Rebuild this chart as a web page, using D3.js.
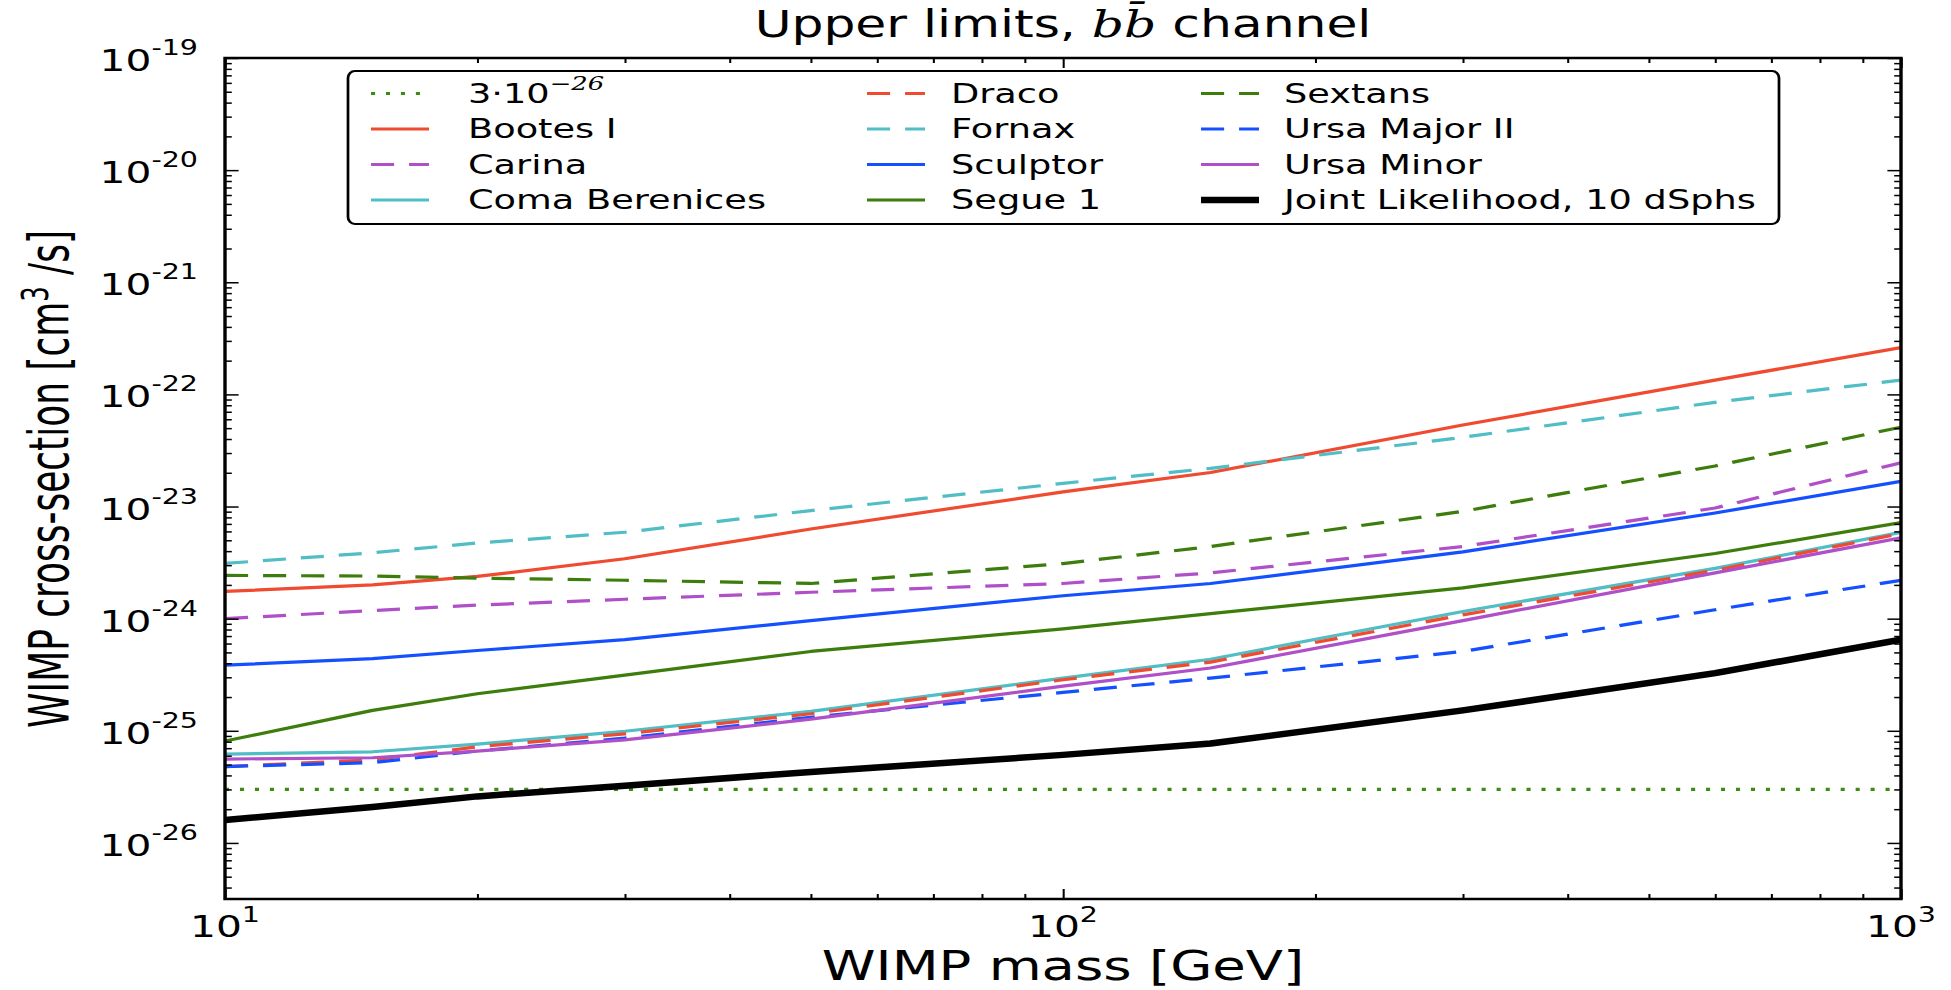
<!DOCTYPE html>
<html>
<head>
<meta charset="utf-8">
<script src="https://cdn.jsdelivr.net/npm/d3@7"></script>
<style>
    body { margin: 0; background: #fff; }
    svg { display: block; }
    text { font-family: "DejaVu Sans", sans-serif; fill: #000; }
</style>
</head>
<body>
<script>
// WIMP masses [GeV] where the limits are sampled
const masses = [10, 15, 20, 30, 50, 100, 150, 300, 600, 1000];

// upper limits on <sigma v> [cm^3/s]
const bootesI      = [1.75e-24, 2.0e-24, 2.38e-24, 3.42e-24, 6.3e-24, 1.35e-23, 2.01e-23, 5.33e-23, 1.34e-22, 2.62e-22];
const carina       = [1.0e-24, 1.18e-24, 1.32e-24, 1.49e-24, 1.72e-24, 2.06e-24, 2.56e-24, 4.4e-24, 9.7e-24, 2.46e-23];
const comaBer      = [6.2e-26, 6.5e-26, 7.6e-26, 9.9e-26, 1.49e-25, 2.95e-25, 4.35e-25, 1.16e-24, 2.81e-24, 5.88e-24];
const draco        = [4.8e-26, 5.5e-26, 7.2e-26, 9.4e-26, 1.42e-25, 2.85e-25, 4.1e-25, 1.08e-24, 2.7e-24, 5.75e-24];
const fornax       = [3.11e-24, 3.87e-24, 4.73e-24, 5.9e-24, 9.2e-24, 1.61e-23, 2.19e-23, 4.14e-23, 8.5e-23, 1.34e-22];
const sculptor     = [3.85e-25, 4.4e-25, 5.2e-25, 6.5e-25, 9.6e-25, 1.6e-24, 2.06e-24, 3.94e-24, 8.75e-24, 1.68e-23];
const segue1       = [8.1e-26, 1.52e-25, 2.14e-25, 3.14e-25, 5.1e-25, 8.1e-25, 1.11e-24, 1.88e-24, 3.81e-24, 7.2e-24];
const sextans      = [2.43e-24, 2.4e-24, 2.3e-24, 2.2e-24, 2.06e-24, 3.1e-24, 4.4e-24, 9.06e-24, 2.3e-23, 5.1e-23];
const ursaMajorII  = [4.8e-26, 5.2e-26, 6.6e-26, 8.6e-26, 1.32e-25, 2.2e-25, 2.95e-25, 5.1e-25, 1.2e-24, 2.2e-24];
const ursaMinor    = [5.6e-26, 5.75e-26, 6.6e-26, 8.3e-26, 1.27e-25, 2.5e-25, 3.63e-25, 9.6e-25, 2.56e-24, 5.27e-24];
const jointLike    = [1.6e-26, 2.09e-26, 2.6e-26, 3.24e-26, 4.3e-26, 6.1e-26, 7.7e-26, 1.52e-25, 3.27e-25, 6.5e-25];

// thermal relic cross-section
const thermalMasses = [10, 1000];
const thermalValues = [3e-26, 3e-26];

// tick labels
const xTickExponents = [1, 2, 3];
const yTickExponents = [-26, -25, -24, -23, -22, -21, -20, -19];

const red = '#f04a30';
const purple = '#b050c8';
const cyan = '#50bec4';
const blue = '#1450ff';
const green = '#3c7d0c';

const dashed = '17 11';

// plotting order == legend order (column major)
const series = [
    { name: 'thermal', masses: thermalMasses, values: thermalValues, color: '#3c8c14', dash: '3 8', width: 3.2 },
    { name: 'Bootes I', masses, values: bootesI, color: red, dash: null, width: 3.2 },
    { name: 'Carina', masses, values: carina, color: purple, dash: dashed, width: 3.2 },
    { name: 'Coma Berenices', masses, values: comaBer, color: cyan, dash: null, width: 3.2 },
    { name: 'Draco', masses, values: draco, color: red, dash: dashed, width: 3.2 },
    { name: 'Fornax', masses, values: fornax, color: cyan, dash: dashed, width: 3.2 },
    { name: 'Sculptor', masses, values: sculptor, color: blue, dash: null, width: 3.2 },
    { name: 'Segue 1', masses, values: segue1, color: green, dash: null, width: 3.2 },
    { name: 'Sextans', masses, values: sextans, color: green, dash: dashed, width: 3.2 },
    { name: 'Ursa Major II', masses, values: ursaMajorII, color: blue, dash: dashed, width: 3.2 },
    { name: 'Ursa Minor', masses, values: ursaMinor, color: purple, dash: null, width: 3.2 },
    { name: 'Joint Likelihood, 10 dSphs', masses, values: jointLike, color: '#000', dash: null, width: 6.5 }
];

drawChart();

function drawChart()
{
    const width = 1951;
    const height = 990;

    // the reference is stretched horizontally, draw in an unstretched frame
    const stretch = 1.36;
    const vw = width / stretch;

    const left = 225 / stretch;
    const right = 1901 / stretch;
    const top = 58;
    const bottom = 899;

    const svg = d3.select('body').append('svg')
        .attr('width', width)
        .attr('height', height)
        .attr('viewBox', `0 0 ${vw} ${height}`)
        .attr('preserveAspectRatio', 'none');

    const x = d3.scaleLog().domain([10, 1000]).range([left, right]);
    const y = d3.scaleLog().domain([Math.pow(10, -26.5), 1e-19]).range([bottom, top]);

    // tick values
    const xMajor = xTickExponents.map(e => Math.pow(10, e));
    const xMinor = [];
    for (let e = 1; e < 3; e++)
        for (let k = 2; k <= 9; k++) xMinor.push(k * Math.pow(10, e));

    const yMajor = yTickExponents.map(e => Math.pow(10, e));
    const yMinor = [];
    for (let e = -27; e < -19; e++)
        for (let k = 2; k <= 9; k++)
        {
            const v = k * Math.pow(10, e);
            if (v > y.domain()[0] && v < 1e-19) yMinor.push(v);
        }

    // clip
    svg.append('clipPath').attr('id', 'plot-clip')
        .append('rect')
        .attr('x', left).attr('y', top)
        .attr('width', right - left).attr('height', bottom - top);

    // data lines
    const line = d3.line()
        .x(d => x(d[0]))
        .y(d => y(d[1]));

    svg.append('g')
        .attr('clip-path', 'url(#plot-clip)')
        .selectAll('path')
        .data(series)
        .enter()
        .append('path')
        .attr('d', s => line(s.masses.map((m, i) => [m, s.values[i]])))
        .attr('fill', 'none')
        .attr('stroke', s => s.color)
        .attr('stroke-width', s => s.width)
        .attr('stroke-dasharray', s => s.dash)
        .attr('stroke-linejoin', 'round');

    // ticks on all four sides, pointing inward
    const addAxis = (axis, tx, ty) =>
    {
        svg.append('g')
            .attr('transform', `translate(${tx}, ${ty})`)
            .call(axis)
            .call(g => g.select('.domain').remove())
            .call(g => g.selectAll('line').attr('stroke', '#000').attr('stroke-width', 1.5));
    };

    addAxis(d3.axisBottom(x).tickValues(xMinor).tickSize(-5).tickFormat(''), 0, bottom);
    addAxis(d3.axisBottom(x).tickValues(xMajor).tickSize(-10).tickFormat(''), 0, bottom);
    addAxis(d3.axisTop(x).tickValues(xMinor).tickSize(-5).tickFormat(''), 0, top);
    addAxis(d3.axisTop(x).tickValues(xMajor).tickSize(-10).tickFormat(''), 0, top);
    addAxis(d3.axisLeft(y).tickValues(yMinor).tickSize(-5).tickFormat(''), left, 0);
    addAxis(d3.axisLeft(y).tickValues(yMajor).tickSize(-10).tickFormat(''), left, 0);
    addAxis(d3.axisRight(y).tickValues(yMinor).tickSize(-5).tickFormat(''), right, 0);
    addAxis(d3.axisRight(y).tickValues(yMajor).tickSize(-10).tickFormat(''), right, 0);

    // frame
    svg.append('rect')
        .attr('x', left).attr('y', top)
        .attr('width', right - left).attr('height', bottom - top)
        .attr('fill', 'none')
        .attr('stroke', '#000')
        .attr('stroke-width', 2.5);

    // x tick labels
    const xLabels = svg.selectAll('text.x-tick')
        .data(xTickExponents)
        .enter()
        .append('text')
        .attr('class', 'x-tick')
        .attr('x', e => x(Math.pow(10, e)))
        .attr('y', 937)
        .attr('text-anchor', 'middle')
        .style('font-size', '30px');
    xLabels.append('tspan').text('10');
    xLabels.append('tspan').attr('dy', -15).style('font-size', '21px').text(e => e);

    // y tick labels
    const yLabels = svg.selectAll('text.y-tick')
        .data(yTickExponents)
        .enter()
        .append('text')
        .attr('class', 'y-tick')
        .attr('x', 198 / stretch)
        .attr('y', e => y(Math.pow(10, e)) + 13)
        .attr('text-anchor', 'end')
        .style('font-size', '30px');
    yLabels.append('tspan').text('10');
    yLabels.append('tspan').attr('dy', -16).style('font-size', '21px').text(e => '-' + Math.abs(e));

    // title
    const title = svg.append('text')
        .attr('x', (left + right) / 2)
        .attr('y', 37)
        .attr('text-anchor', 'middle')
        .style('font-size', '37px');
    title.append('tspan').text('Upper limits, ');
    title.append('tspan')
        .style('font-family', '"DejaVu Serif", serif')
        .style('font-style', 'italic')
        .text('b\u0062\u0304');
    title.append('tspan').text(' channel');

    // axis labels
    svg.append('text')
        .attr('x', (left + right) / 2)
        .attr('y', 980)
        .attr('text-anchor', 'middle')
        .style('font-size', '40px')
        .text('WIMP mass [GeV]');

    const yLabel = svg.append('text')
        .attr('transform', `translate(${68 / stretch}, 479) rotate(-90)`)
        .attr('text-anchor', 'middle')
        .attr('textLength', 498)
        .attr('lengthAdjust', 'spacingAndGlyphs')
        .style('font-size', '40px');
    yLabel.append('tspan').text('WIMP cross-section [cm');
    yLabel.append('tspan').attr('dy', -15).style('font-size', '27px').text('3');
    yLabel.append('tspan').attr('dy', 15).text(' /s]');

    // legend
    const legend = svg.append('g');
    legend.append('rect')
        .attr('x', 348 / stretch).attr('y', 71)
        .attr('width', (1779 - 348) / stretch).attr('height', 153)
        .attr('rx', 5).attr('ry', 7)
        .attr('fill', '#fff')
        .attr('stroke', '#000')
        .attr('stroke-width', 2);

    const colHandle = [371, 867, 1201].map(v => v / stretch);
    const colText = [468, 951, 1284].map(v => v / stretch);
    const handleLen = 58 / stretch;
    const rowY = [93.5, 129, 164.5, 200];

    series.forEach((s, i) =>
    {
        const col = Math.floor(i / 4);
        const row = i % 4;
        const cy = rowY[row];

        legend.append('line')
            .attr('x1', colHandle[col]).attr('x2', colHandle[col] + handleLen)
            .attr('y1', cy).attr('y2', cy)
            .attr('stroke', s.color)
            .attr('stroke-width', s.width)
            .attr('stroke-dasharray', s.dash);

        const label = legend.append('text')
            .attr('x', colText[col])
            .attr('y', cy + 9.5)
            .style('font-size', '27px');

        if (s.name === 'thermal')
        {
            label.append('tspan').text('3\u00b710');
            label.append('tspan').attr('dy', -13)
                .style('font-size', '19px')
                .style('font-family', '"DejaVu Serif", serif')
                .style('font-style', 'italic')
                .text('\u221226');
        }
        else
        {
            label.text(s.name);
        }
    });
}
</script>
</body>
</html>
